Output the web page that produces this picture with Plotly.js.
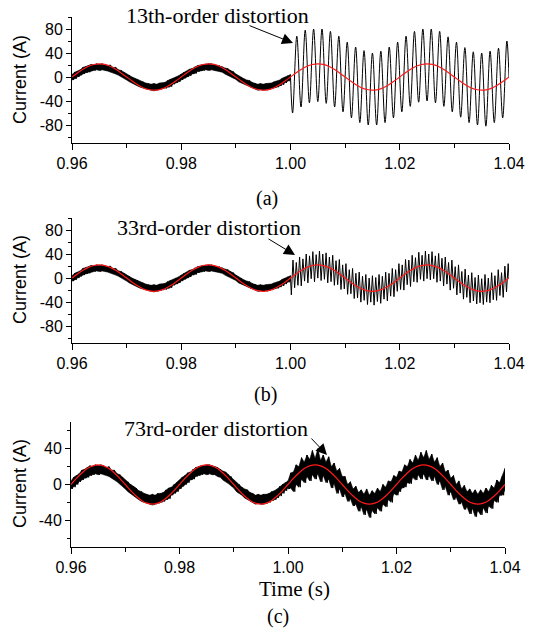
<!DOCTYPE html>
<html>
<head>
<meta charset="utf-8">
<script src="https://cdn.plot.ly/plotly-3.0.1.min.js"></script>
<style>html,body{margin:0;padding:0;background:#fff;}#chart{width:548px;height:629px;}</style>
</head>
<body>
<div id="chart"></div>
<script>
// ---------- data ----------
const xTickVals = [0.96, 0.98, 1.00, 1.02, 1.04];
const xTickText = ['0.96', '0.98', '1.00', '1.02', '1.04'];
const xMinorVals = [0.97, 0.99, 1.01, 1.03];

const yTickValsAB = [-80, -40, 0, 40, 80];
const yTickTextAB = ['-80', '-40', '0', '40', '80'];
const yMinorAB = [-100, -60, -20, 20, 60, 100];
const yTickValsC = [-40, 0, 40];
const yTickTextC = ['-40', '0', '40'];
const yMinorC = [-60, -20, 20, 60];

// red fundamental reference, sampled every 1 ms from 0.96 s to 1.04 s
const refStart = 0.96, refStep = 0.001;
const refCurrent = [
  0, 6.8, 12.9, 17.8, 20.9, 22, 20.9, 17.8, 12.9, 6.8, 0, -6.8, -12.9, -17.8, -20.9, -22, -20.9, -17.8, -12.9, -6.8,
  0, 6.8, 12.9, 17.8, 20.9, 22, 20.9, 17.8, 12.9, 6.8, 0, -6.8, -12.9, -17.8, -20.9, -22, -20.9, -17.8, -12.9, -6.8,
  0, 6.8, 12.9, 17.8, 20.9, 22, 20.9, 17.8, 12.9, 6.8, 0, -6.8, -12.9, -17.8, -20.9, -22, -20.9, -17.8, -12.9, -6.8,
  0, 6.8, 12.9, 17.8, 20.9, 22, 20.9, 17.8, 12.9, 6.8, 0, -6.8, -12.9, -17.8, -20.9, -22, -20.9, -17.8, -12.9, -6.8,
  0
];

// noisy measured current before the disturbance (0.96-1.00 s), upper / lower edges every 0.5 ms
const preStart = 0.96, bandStep = 0.0005;
const preUpper = [
  4, 8, 10, 12, 16, 17, 19, 21, 20, 22, 21, 22, 21, 19, 20, 16, 16, 12, 11, 8, 5,
  3, 0, -2, -4, -7, -8, -10, -11, -12, -11, -12, -10, -10, -9, -6, -4, -3, 0, 2, 5,
  8, 10, 13, 14, 17, 19, 20, 21, 21, 22, 22, 21, 20, 19, 17, 15, 14, 11, 9, 5,
  2, 0, -3, -5, -6, -9, -10, -12, -11, -12, -11, -11, -10, -8, -7, -5, -2, 0, 2, 4
];
const preLower = [
  -5, -3, 0, 3, 5, 7, 8, 10, 11, 12, 11, 12, 11, 10, 9, 7, 5, 3, 0, -2, -5,
  -8, -10, -13, -15, -17, -19, -20, -21, -22, -23, -22, -21, -20, -19, -17, -16, -12, -10, -8, -5,
  -2, 0, 2, 5, 6, 9, 10, 11, 12, 11, 12, 11, 11, 9, 8, 5, 3, 1, -2, -4,
  -8, -10, -12, -15, -17, -18, -20, -22, -21, -22, -22, -21, -20, -18, -17, -15, -13, -10, -7, -4
];

// (a) 13th-order distortion after 1.00 s: trough / peak of each harmonic cycle
const postStart = 1.00, postEnd = 1.04;
const h13Period = 1 / 650;
const h13Troughs = [-60, -50, -43, -41, -44, -50, -58, -68, -76, -80, -80, -76, -68,
                    -58, -49, -42, -40, -43, -49, -58, -67, -76, -80, -82, -76, -68];
const h13Peaks = [68, 78, 80, 80, 76, 68, 58, 50, 44, 40, 43, 50, 58,
                  68, 76, 80, 80, 76, 67, 58, 49, 42, 40, 43, 48, 60];

// (b) 33rd-order distortion after 1.00 s
const h33Period = 1 / 1650;
const h33Troughs = [
  -28, -16, -12, -13, -5, -8, -1, -6, 0, -4, -2, -8, -6, -12, -11, -19, -18, -27, -26, -34, -33, -40, -37, -44, -40, -45, -39, -42, -35, -38, -30, -31, -22,
  -19, -20, -11, -14, -6, -7, -2, -5, -1, -3, -1, -7, -5, -13, -10, -20, -17, -28, -25, -35, -32, -41, -38, -43, -41, -44, -40, -41, -36, -37, -29, -32, -23
];
const h33Peaks = [
  30, 26, 35, 32, 40, 37, 44, 39, 45, 40, 42, 35, 38, 29, 31, 22, 24, 14, 16, 8, 10, 3, 6, 0, 4, 1, 6, 3, 10, 8, 16, 14, 24,
  22, 31, 30, 38, 34, 43, 38, 45, 40, 44, 37, 41, 33, 35, 26, 30, 19, 22, 11, 15, 5, 9, 1, 5, -1, 6, 0, 9, 4, 14, 9, 20, 24
];

// (c) 73rd-order distortion after 1.00 s: dense band, upper / lower edges every 0.5 ms
const h73Upper = [
  4, 13, 14, 22, 20, 30, 25, 33, 28, 38, 29, 40, 27, 33, 25, 31, 20, 24, 15, 18, 9,
  9, 0, 3, -5, -2, -9, -6, -11, -5, -12, -7, -10, -4, -8, 0, -3, 4, 3, 10, 8,
  15, 14, 22, 20, 28, 24, 33, 27, 36, 30, 38, 28, 34, 25, 30, 20, 24, 14, 16, 7,
  10, 0, 4, -5, -1, -8, -5, -10, -6, -11, -6, -10, -4, -8, -1, -4, 5, 2, 9, 18
];
const h73Lower = [
  -5, -4, -8, 0, -3, 6, 2, 9, 4, 11, 6, 12, 3, 10, 2, 6, -4, 1, -10, -5, -14,
  -10, -19, -16, -24, -22, -30, -25, -34, -28, -37, -29, -33, -26, -30, -22, -25, -17, -20, -10, -12,
  -8, -4, -3, 2, 1, 8, 5, 11, 6, 12, 5, 10, 4, 9, 0, 4, -6, -2, -12, -8,
  -17, -14, -22, -20, -28, -25, -33, -27, -36, -29, -34, -26, -32, -24, -27, -18, -20, -12, -12, -6
];

const panelLabels = ['(a)', '(b)', '(c)'];
const distortionLabels = ['13th-order distortion', '33rd-order distortion', '73rd-order distortion'];
const yTitle = 'Current (A)';
const xTitle = 'Time (s)';

// ---------- build series ----------
function series(t0, step, vals) {
  return { x: vals.map((_, i) => t0 + i * step), y: vals.slice() };
}
function band(t0, step, upper, lower) {
  const x = [], y = [];
  for (let i = 0; i < upper.length; i++) {
    x.push(t0 + i * step); y.push(upper[i]);
    if (i < upper.length - 1) { x.push(t0 + (i + 0.5) * step); y.push(lower[i]); }
  }
  return { x, y };
}
function bandFill(t0, step, upper, lower) {
  const x = [], y = [];
  for (let i = 0; i < upper.length; i++) { x.push(t0 + i * step); y.push(upper[i]); }
  for (let i = lower.length - 1; i >= 0; i--) { x.push(t0 + i * step); y.push(lower[i]); }
  return { x, y };
}
function harmonic(t0, t1, period, troughs, peaks) {
  const x = [t0], y = [0];
  for (let k = 0; k < troughs.length; k++) {
    x.push(t0 + (k + 0.25) * period); y.push(troughs[k]);
    x.push(t0 + (k + 0.75) * period); y.push(peaks[k]);
  }
  x.push(t1); y.push(0);
  return { x, y };
}

const ref = series(refStart, refStep, refCurrent);
const pre = band(preStart, bandStep, preUpper, preLower);
const preFill = bandFill(preStart, bandStep, preUpper, preLower);
const postA = harmonic(postStart, postEnd, h13Period, h13Troughs, h13Peaks);
const postB = harmonic(postStart, postEnd, h33Period, h33Troughs, h33Peaks);
const postC = band(postStart, bandStep, h73Upper, h73Lower);
const postCFill = bandFill(postStart, bandStep, h73Upper, h73Lower);

const BLACK = '#000000', RED = '#ff1a1a';
function tr(s, ax, color, width, shape) {
  return { type: 'scatter', mode: 'lines', x: s.x, y: s.y, xaxis: ax[0], yaxis: ax[1],
           line: { color, width, shape: shape || 'linear' }, hoverinfo: 'skip' };
}
function fillTr(s, ax) {
  return { type: 'scatter', mode: 'lines', x: s.x, y: s.y, xaxis: ax[0], yaxis: ax[1],
           fill: 'toself', fillcolor: BLACK, line: { color: BLACK, width: 0.6 }, hoverinfo: 'skip' };
}
const axes = [['x', 'y'], ['x2', 'y2'], ['x3', 'y3']];
const data = [];
for (let p = 0; p < 3; p++) {
  data.push(fillTr(preFill, axes[p]));
  data.push(tr(pre, axes[p], BLACK, 1));
  if (p === 0) data.push(tr(postA, axes[p], BLACK, 1, 'spline'));
  if (p === 1) data.push(tr(postB, axes[p], BLACK, 1));
  if (p === 2) { data.push(fillTr(postCFill, axes[p])); data.push(tr(postC, axes[p], BLACK, 1)); }
  data.push(tr(ref, axes[p], RED, 1.2, 'spline'));
}

// ---------- layout ----------
const W = 548, H = 629;
const tickFont = { family: 'Liberation Sans, Arial, sans-serif', size: 16, color: '#000' };
function xAxis(l, r, anchor) {
  return {
    domain: [l / W, r / W], anchor, range: [0.96, 1.04],
    tickmode: 'array', tickvals: xTickVals, ticktext: xTickText,
    ticks: 'outside', ticklen: 6, tickwidth: 1, tickcolor: '#000',
    minor: { tickmode: 'array', tickvals: xMinorVals, ticks: 'outside', ticklen: 4, tickwidth: 1, tickcolor: '#000', showgrid: false },
    showline: true, linecolor: '#000', linewidth: 1, showgrid: false, zeroline: false,
    tickfont: tickFont, fixedrange: true
  };
}
function yAxis(top, bottom, anchor, range, tv, tt, mv) {
  return {
    domain: [1 - bottom / H, 1 - top / H], anchor, range,
    tickmode: 'array', tickvals: tv, ticktext: tt,
    ticks: 'outside', ticklen: 5, tickwidth: 1, tickcolor: '#000',
    minor: { tickmode: 'array', tickvals: mv, ticks: 'outside', ticklen: 3, tickwidth: 1, tickcolor: '#000', showgrid: false },
    showline: true, linecolor: '#000', linewidth: 1, showgrid: false, zeroline: false,
    tickfont: tickFont, fixedrange: true
  };
}

const serif = 'Liberation Serif, Times New Roman, serif';
const sans = 'Liberation Sans, Arial, sans-serif';
function px(x) { return x / W; }
function py(y) { return 1 - y / H; }
const annotations = [];
const yTitleY = [80, 280, 484];
const labelPos = [[267, 198], [265, 394], [278, 616]];
const textPos = [[217, 15], [209, 227], [216, 428]];
const arrowPos = [[293, 43, -45, -18], [295, 255, -28, -17], [327, 455, -17, -18]];
for (let p = 0; p < 3; p++) {
  annotations.push({ xref: 'paper', yref: 'paper', x: px(20), y: py(yTitleY[p]), text: yTitle, textangle: -90,
    showarrow: false, font: { family: sans, size: 18, color: '#000' }, xanchor: 'center', yanchor: 'middle' });
  annotations.push({ xref: 'paper', yref: 'paper', x: px(labelPos[p][0]), y: py(labelPos[p][1]), text: panelLabels[p],
    showarrow: false, font: { family: serif, size: 20, color: '#000' }, xanchor: 'center', yanchor: 'middle' });
  annotations.push({ xref: 'paper', yref: 'paper', x: px(textPos[p][0]), y: py(textPos[p][1]), text: distortionLabels[p],
    showarrow: false, font: { family: serif, size: 22, color: '#000' }, xanchor: 'center', yanchor: 'middle' });
  annotations.push({ xref: 'paper', yref: 'paper', x: px(arrowPos[p][0]), y: py(arrowPos[p][1]), text: '',
    showarrow: true, ax: arrowPos[p][2], ay: arrowPos[p][3], arrowhead: 2, arrowsize: 2.2, arrowwidth: 1, arrowcolor: '#000' });
}
annotations.push({ xref: 'paper', yref: 'paper', x: px(294), y: py(589), text: xTitle, showarrow: false,
  font: { family: serif, size: 21, color: '#000' }, xanchor: 'center', yanchor: 'middle' });

const layout = {
  width: W, height: H, margin: { l: 0, r: 0, t: 0, b: 0 },
  paper_bgcolor: '#fff', plot_bgcolor: '#fff', showlegend: false,
  xaxis: xAxis(72, 509, 'y'),
  yaxis: yAxis(17, 143, 'x', [-110, 100], yTickValsAB, yTickTextAB, yMinorAB),
  xaxis2: xAxis(72, 509, 'y2'),
  yaxis2: yAxis(218, 343, 'x2', [-108, 100], yTickValsAB, yTickTextAB, yMinorAB),
  xaxis3: xAxis(71, 505, 'y3'),
  yaxis3: yAxis(422, 547, 'x3', [-70, 70], yTickValsC, yTickTextC, yMinorC),
  annotations
};

Plotly.newPlot('chart', data, layout, { staticPlot: true, displayModeBar: false });
</script>
</body>
</html>
